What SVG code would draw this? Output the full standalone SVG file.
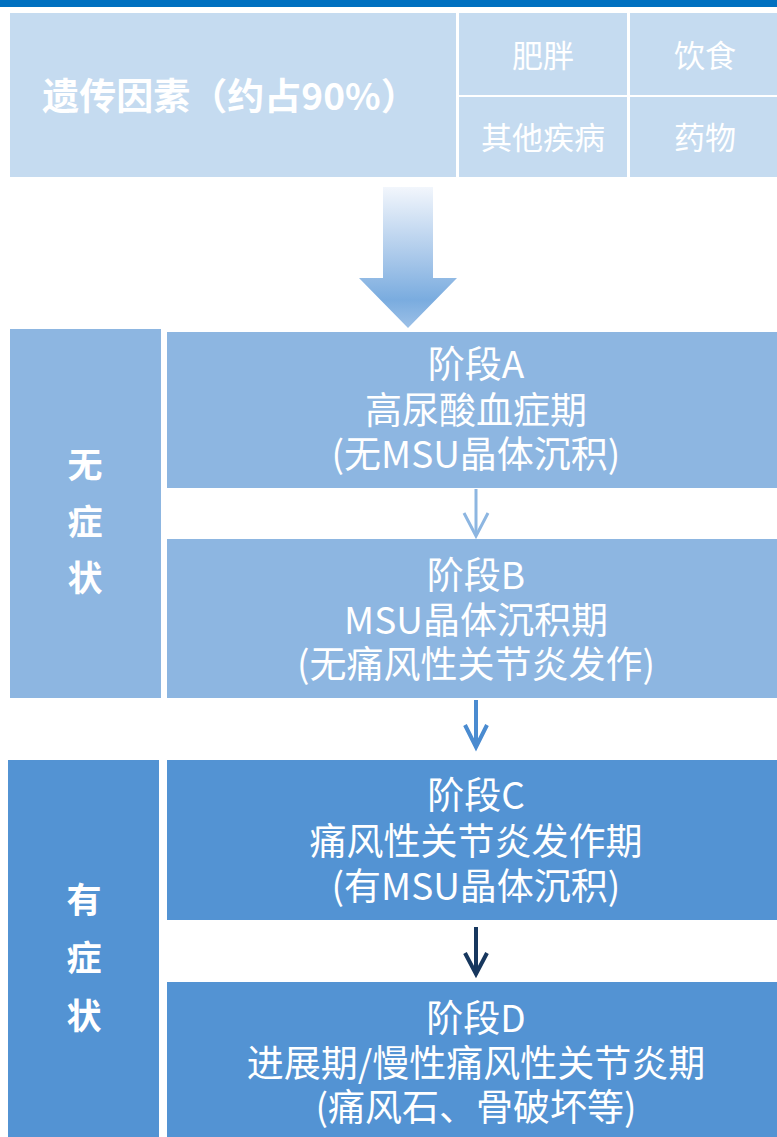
<svg xmlns="http://www.w3.org/2000/svg" width="777" height="1137" viewBox="0 0 777 1137">
<style>
.t{font-family:"Noto Sans CJK SC","Liberation Sans",sans-serif;fill:#fff;text-anchor:middle;dominant-baseline:central}
.s{font-size:37px}
.c{font-size:31px}
.b{font-weight:bold}
.la{fill:#C5DBF0}
.lb{fill:#8DB6E1}
.lc{fill:#5393D3}
</style>
<defs>
<linearGradient id="g" x1="0" y1="187" x2="0" y2="328" gradientUnits="userSpaceOnUse">
<stop offset="0" stop-color="#F2F6FC"/>
<stop offset="0.5" stop-color="#A9C8EA"/>
<stop offset="0.8" stop-color="#7AACDF"/>
<stop offset="1" stop-color="#9CC0E7"/>
</linearGradient>
</defs>
<rect x="0" y="0" width="777" height="7" fill="#0070C0"/>
<g id="factors">
<rect class="la" x="10" y="13" width="446" height="164"/>
<text class="t b" x="230" y="94" font-size="37">遗传因素（约占90%）</text>
</g>
<g id="obesity"><rect class="la" x="459" y="13" width="168" height="82"/><text class="t c" x="543" y="53">肥胖</text></g>
<g id="diet"><rect class="la" x="630" y="13" width="147" height="82"/><text class="t c" x="705" y="53">饮食</text></g>
<g id="disease"><rect class="la" x="459" y="97" width="168" height="80"/><text class="t c" x="543" y="135">其他疾病</text></g>
<g id="drug"><rect class="la" x="630" y="97" width="147" height="80"/><text class="t c" x="705" y="135">药物</text></g>
<g id="asym">
<rect class="lb" x="10" y="329" width="151" height="369"/>
<text class="t b" font-size="35"><tspan x="85" y="462">无</tspan><tspan x="85" y="519">症</tspan><tspan x="85" y="575">状</tspan></text>
</g>
<g id="sym">
<rect class="lc" x="8" y="760" width="151" height="377"/>
<text class="t b" font-size="35"><tspan x="84" y="897">有</tspan><tspan x="84" y="955">症</tspan><tspan x="84" y="1013">状</tspan></text>
</g>
<g id="stageA">
<rect class="lb" x="167" y="332" width="610" height="156"/>
<text class="t s"><tspan x="476" y="362">阶段A</tspan><tspan x="476" y="408">高尿酸血症期</tspan><tspan x="476" y="452">(无MSU晶体沉积)</tspan></text>
</g>
<g id="stageB">
<rect class="lb" x="167" y="539" width="610" height="159"/>
<text class="t s"><tspan x="476" y="573">阶段B</tspan><tspan x="476" y="618">MSU晶体沉积期</tspan><tspan x="476" y="662">(无痛风性关节炎发作)</tspan></text>
</g>
<g id="stageC">
<rect class="lc" x="167" y="760" width="610" height="160"/>
<text class="t s"><tspan x="476" y="793">阶段C</tspan><tspan x="476" y="839">痛风性关节炎发作期</tspan><tspan x="476" y="884">(有MSU晶体沉积)</tspan></text>
</g>
<g id="stageD">
<rect class="lc" x="167" y="982" width="610" height="155"/>
<text class="t s"><tspan x="476" y="1016">阶段D</tspan><tspan x="476" y="1061">进展期/慢性痛风性关节炎期</tspan><tspan x="476" y="1105">(痛风石、骨破坏等)</tspan></text>
</g>
<g id="connectors">
<path d="M383,187 H433 V278 H457 L408,328 L359,278 H383 Z" fill="url(#g)"/>
<path d="M476,489 V535" stroke="#8DB6E1" stroke-width="3" fill="none"/>
<path d="M464,513 L476,536 L488,513" stroke="#8DB6E1" stroke-width="3" fill="none"/>
<path d="M476,700 V745" stroke="#4A8BD0" stroke-width="4" fill="none"/>
<path d="M465,725 L476,747 L487,725" stroke="#4A8BD0" stroke-width="4" fill="none"/>
<path d="M476,927 V972" stroke="#17375E" stroke-width="4" fill="none"/>
<path d="M465,953 L476,974 L487,953" stroke="#17375E" stroke-width="4" fill="none"/>
</g>
</svg>
